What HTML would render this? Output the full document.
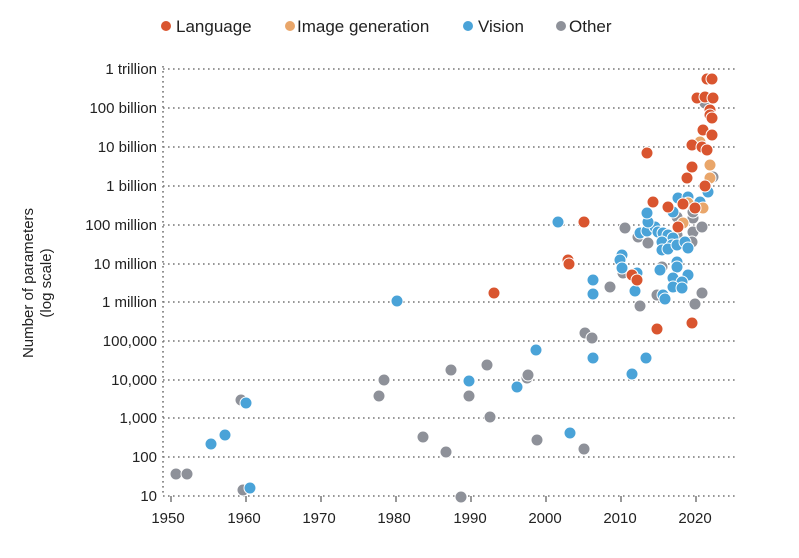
<!DOCTYPE html>
<html><head><meta charset="utf-8"><style>
body{margin:0;background:#fff;}
svg{display:block;font-family:"Liberation Sans",sans-serif;}
</style></head><body>
<svg width="799" height="558" viewBox="0 0 799 558" xmlns="http://www.w3.org/2000/svg">
<g font-size="17" fill="#222">
<circle cx="166" cy="26" r="5" fill="#d9552f"/><text x="176" y="32">Language</text>
<circle cx="290" cy="26" r="5" fill="#e9a66a"/><text x="297" y="32">Image generation</text>
<circle cx="468" cy="26" r="5" fill="#4aa3d8"/><text x="478" y="32">Vision</text>
<circle cx="561" cy="26" r="5" fill="#8e9199"/><text x="569" y="32">Other</text>
</g>
<g stroke="#777" stroke-width="1.6" stroke-dasharray="1.6 3.4">
<line x1="163" y1="69" x2="735" y2="69"/><line x1="163" y1="108" x2="735" y2="108"/>
<line x1="163" y1="147" x2="735" y2="147"/><line x1="163" y1="186" x2="735" y2="186"/>
<line x1="163" y1="225" x2="735" y2="225"/><line x1="163" y1="264" x2="735" y2="264"/>
<line x1="163" y1="302" x2="735" y2="302"/><line x1="163" y1="341" x2="735" y2="341"/>
<line x1="163" y1="380" x2="735" y2="380"/><line x1="163" y1="418" x2="735" y2="418"/>
<line x1="163" y1="457" x2="735" y2="457"/><line x1="163" y1="496" x2="735" y2="496"/>
<line x1="163" y1="66" x2="163" y2="496"/>
</g>
<g stroke="#555" stroke-width="1.2">
<line x1="171" y1="496" x2="171" y2="502"/><line x1="246" y1="496" x2="246" y2="502"/>
<line x1="321" y1="496" x2="321" y2="502"/><line x1="396" y1="496" x2="396" y2="502"/>
<line x1="471" y1="496" x2="471" y2="502"/><line x1="546" y1="496" x2="546" y2="502"/>
<line x1="621" y1="496" x2="621" y2="502"/><line x1="696" y1="496" x2="696" y2="502"/>
</g>
<g font-size="15" fill="#222" text-anchor="end">
<text x="157" y="74">1 trillion</text><text x="157" y="113">100 billion</text>
<text x="157" y="152">10 billion</text><text x="157" y="191">1 billion</text>
<text x="157" y="230">100 million</text><text x="157" y="269">10 million</text>
<text x="157" y="307">1 million</text><text x="157" y="346">100,000</text>
<text x="157" y="385">10,000</text><text x="157" y="423">1,000</text>
<text x="157" y="462">100</text><text x="157" y="501">10</text>
</g>
<g font-size="15" fill="#222" text-anchor="middle">
<text x="168" y="523">1950</text><text x="244" y="523">1960</text><text x="319" y="523">1970</text>
<text x="394" y="523">1980</text><text x="470" y="523">1990</text><text x="545" y="523">2000</text>
<text x="620" y="523">2010</text><text x="695" y="523">2020</text>
</g>
<g font-size="15" fill="#222" text-anchor="middle">
<text transform="translate(33,283) rotate(-90)">Number of parameters</text>
<text transform="translate(51,283) rotate(-90)">(log scale)</text>
</g>
<g stroke="#fff" stroke-width="1">
<g fill="#8e9199">
<circle cx="176" cy="474" r="6"/><circle cx="187" cy="474" r="6"/><circle cx="241" cy="400" r="6"/>
<circle cx="243" cy="490" r="6"/><circle cx="379" cy="396" r="6"/><circle cx="384" cy="380" r="6"/>
<circle cx="423" cy="437" r="6"/><circle cx="446" cy="452" r="6"/><circle cx="451" cy="370" r="6"/>
<circle cx="469" cy="396" r="6"/><circle cx="461" cy="497" r="6"/><circle cx="487" cy="365" r="6"/>
<circle cx="490" cy="417" r="6"/><circle cx="527" cy="378" r="6"/><circle cx="528" cy="375" r="6"/>
<circle cx="537" cy="440" r="6"/><circle cx="584" cy="449" r="6"/><circle cx="585" cy="333" r="6"/>
<circle cx="592" cy="338" r="6"/><circle cx="610" cy="287" r="6"/><circle cx="625" cy="228" r="6"/>
<circle cx="638" cy="237" r="6"/><circle cx="648" cy="243" r="6"/><circle cx="640" cy="306" r="6"/>
<circle cx="657" cy="295" r="6"/><circle cx="667" cy="240" r="6"/><circle cx="662" cy="267" r="6"/>
<circle cx="623" cy="273" r="6"/><circle cx="677" cy="235" r="6"/><circle cx="693" cy="232" r="6"/>
<circle cx="702" cy="227" r="6"/><circle cx="692" cy="242" r="6"/><circle cx="702" cy="293" r="6"/>
<circle cx="695" cy="304" r="6"/><circle cx="677" cy="217" r="6"/><circle cx="693" cy="218" r="6"/>
<circle cx="693" cy="212" r="6"/><circle cx="705" cy="103" r="6"/><circle cx="713" cy="177" r="6"/>
</g>
<g fill="#4aa3d8">
<circle cx="211" cy="444" r="6"/><circle cx="225" cy="435" r="6"/><circle cx="246" cy="403" r="6"/>
<circle cx="250" cy="488" r="6"/><circle cx="397" cy="301" r="6"/><circle cx="469" cy="381" r="6"/>
<circle cx="517" cy="387" r="6"/><circle cx="536" cy="350" r="6"/><circle cx="570" cy="433" r="6"/>
<circle cx="632" cy="374" r="6"/><circle cx="646" cy="358" r="6"/><circle cx="593" cy="358" r="6"/>
<circle cx="558" cy="222" r="6"/><circle cx="593" cy="280" r="6"/><circle cx="593" cy="294" r="6"/>
<circle cx="622" cy="255" r="6"/><circle cx="620" cy="260" r="6"/><circle cx="622" cy="268" r="6"/>
<circle cx="637" cy="273" r="6"/><circle cx="635" cy="291" r="6"/><circle cx="660" cy="270" r="6"/>
<circle cx="663" cy="295" r="6"/><circle cx="665" cy="299" r="6"/><circle cx="677" cy="262" r="6"/>
<circle cx="677" cy="267" r="6"/><circle cx="688" cy="275" r="6"/><circle cx="673" cy="278" r="6"/>
<circle cx="682" cy="282" r="6"/><circle cx="673" cy="287" r="6"/><circle cx="682" cy="288" r="6"/>
<circle cx="640" cy="233" r="6"/><circle cx="647" cy="231" r="6"/><circle cx="655" cy="227" r="6"/>
<circle cx="658" cy="232" r="6"/><circle cx="663" cy="233" r="6"/><circle cx="668" cy="235" r="6"/>
<circle cx="673" cy="238" r="6"/><circle cx="662" cy="242" r="6"/><circle cx="672" cy="245" r="6"/>
<circle cx="662" cy="250" r="6"/><circle cx="668" cy="249" r="6"/><circle cx="677" cy="245" r="6"/>
<circle cx="685" cy="242" r="6"/><circle cx="688" cy="248" r="6"/><circle cx="648" cy="222" r="6"/>
<circle cx="678" cy="198" r="6"/><circle cx="688" cy="197" r="6"/><circle cx="700" cy="202" r="6"/>
<circle cx="708" cy="192" r="6"/><circle cx="673" cy="212" r="6"/><circle cx="647" cy="213" r="6"/>
</g>
<g fill="#e9a66a">
<circle cx="700" cy="142" r="6"/><circle cx="710" cy="165" r="6"/><circle cx="710" cy="178" r="6"/>
<circle cx="703" cy="208" r="6"/><circle cx="683" cy="223" r="6"/><circle cx="688" cy="203" r="6"/>
</g>
<g fill="#d9552f">
<circle cx="494" cy="293" r="6"/><circle cx="568" cy="260" r="6"/><circle cx="569" cy="264" r="6"/>
<circle cx="584" cy="222" r="6"/><circle cx="647" cy="153" r="6"/><circle cx="657" cy="329" r="6"/>
<circle cx="692" cy="323" r="6"/><circle cx="632" cy="275" r="6"/><circle cx="637" cy="280" r="6"/>
<circle cx="653" cy="202" r="6"/><circle cx="668" cy="207" r="6"/><circle cx="683" cy="204" r="6"/>
<circle cx="678" cy="227" r="6"/><circle cx="695" cy="208" r="6"/><circle cx="705" cy="186" r="6"/>
<circle cx="687" cy="178" r="6"/><circle cx="692" cy="167" r="6"/><circle cx="692" cy="145" r="6"/>
<circle cx="702" cy="147" r="6"/><circle cx="707" cy="150" r="6"/><circle cx="703" cy="130" r="6"/>
<circle cx="712" cy="135" r="6"/><circle cx="710" cy="110" r="6"/><circle cx="710" cy="115" r="6"/>
<circle cx="712" cy="118" r="6"/><circle cx="697" cy="98" r="6"/><circle cx="705" cy="97" r="6"/>
<circle cx="713" cy="98" r="6"/><circle cx="707" cy="79" r="6"/><circle cx="712" cy="79" r="6"/>
</g>
</g>
</svg>
</body></html>
